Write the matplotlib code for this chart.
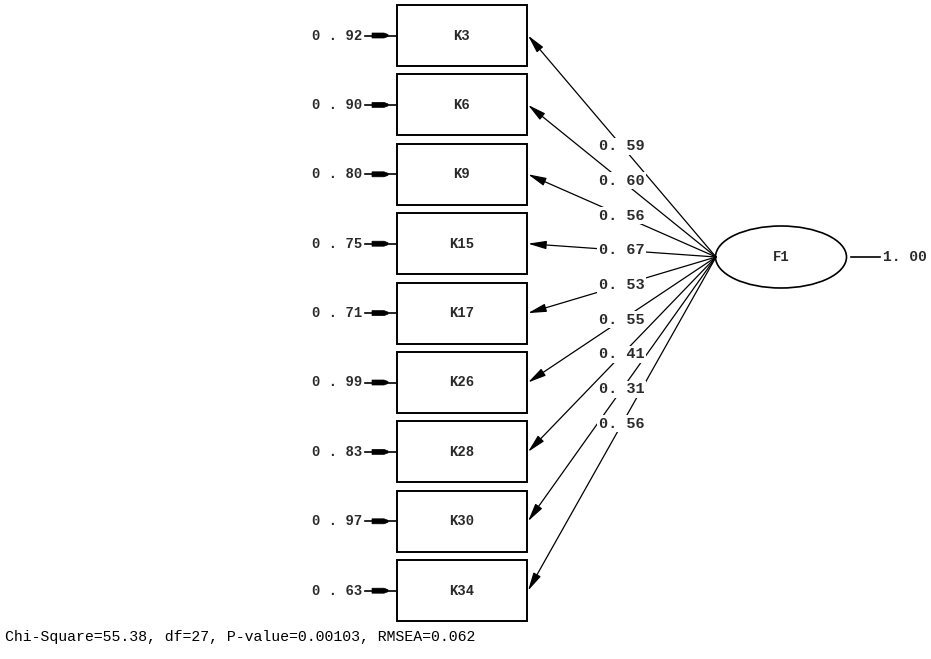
import matplotlib.pyplot as plt
from matplotlib.patches import Rectangle, Ellipse, Polygon

# indicator names, error variances, loadings
items = ["K3", "K6", "K9", "K15", "K17", "K26", "K28", "K30", "K34"]
errors = ["0.92", "0.90", "0.80", "0.75", "0.71", "0.99", "0.83", "0.97", "0.63"]
loadings = ["0.59", "0.60", "0.56", "0.67", "0.53", "0.55", "0.41", "0.31", "0.56"]
factor = "F1"
factor_var = "1.00"
fit_text = "Chi-Square=55.38, df=27, P-value=0.00103, RMSEA=0.062"

W, H = 931, 659
fig = plt.figure(figsize=(W / 100, H / 100), dpi=100)
ax = fig.add_axes([0, 0, 1, 1])
ax.set_xlim(0, W)
ax.set_ylim(H, 0)
ax.axis("off")

mono = "Liberation Mono"
txt_col = "#2a2a2a"
box_l, box_r = 397, 527
box_h = 61
top0, step = 5, 69.4
fx, fy = 716, 257          # left tip of the ellipse

for i, name in enumerate(items):
    top = top0 + i * step
    cy = top + box_h / 2
    ax.add_patch(Rectangle((box_l, top), box_r - box_l, box_h, fill=False,
                           lw=1.4, ec="black", zorder=2))
    ax.text((box_l + box_r) / 2, cy, name, family=mono, fontsize=10,
            fontweight="bold", ha="center", va="center", color=txt_col)
    # error term
    e = errors[i]
    ax.text(362, cy, e[0] + " . " + e[2:], family=mono, fontsize=10,
            fontweight="bold", ha="right", va="center", color=txt_col)
    ax.plot([365, 397], [cy, cy], color="black", lw=1.2)
    ax.add_patch(Polygon([(372, cy - 2.5), (384, cy - 2.5), (388, cy - 1),
                          (388, cy + 1), (384, cy + 2.5), (372, cy + 2.5)],
                         closed=True, fc="black", ec="black", lw=0.5))
    # loading path
    ax.annotate("", xy=(box_r + 1, cy), xytext=(fx, fy),
                arrowprops=dict(arrowstyle="-|>,head_length=1.1,head_width=0.25",
                                color="black", lw=0.9, shrinkA=0, shrinkB=0),
                zorder=3)
    lx = (fx + box_r) / 2
    ly = (fy + cy) / 2
    ax.text(lx, ly, loadings[i][:2] + " " + loadings[i][2:], family=mono,
            fontsize=11, fontweight="bold", ha="center", va="center",
            color=txt_col, zorder=4,
            bbox=dict(boxstyle="square,pad=0.1", fc="white", ec="none"))

ax.add_patch(Ellipse((781, fy), 131, 62, fill=False, lw=1.2, ec="black", zorder=2))
ax.text(781, fy, factor, family=mono, fontsize=10, fontweight="bold",
        ha="center", va="center", color=txt_col)
ax.plot([851, 880], [fy, fy], color="black", lw=1.2)
ax.text(883, fy, factor_var[:2] + " " + factor_var[2:], family=mono, fontsize=10.5,
        fontweight="bold", ha="left", va="center", color=txt_col)

ax.text(5, 637, fit_text, family=mono, fontsize=10.7, ha="left", va="center",
        color="black")

fig.savefig("out.png", dpi=100, facecolor="white")
